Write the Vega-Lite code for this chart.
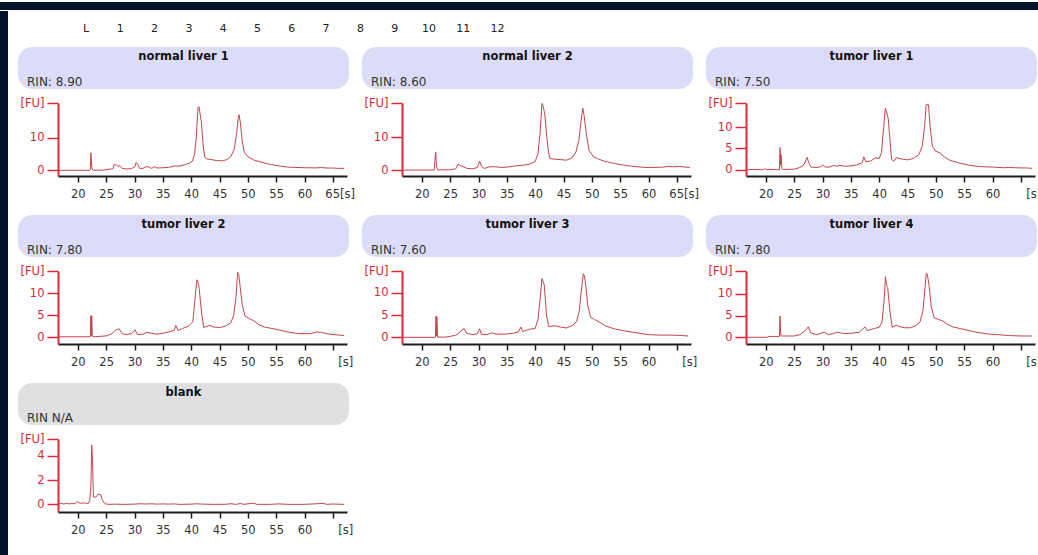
{
  "$schema": "https://vega.github.io/schema/vega-lite/v6.json",
  "padding": 0,
  "background": "#ffffff",
  "spacing": 0,
  "config": {
    "view": {"stroke": null},
    "font": "DejaVu Sans",
    "axisX": {"domainColor": "#1c1c1c", "domainWidth": 2, "tickColor": "#1c1c1c", "tickWidth": 1.5, "tickSize": 6, "labelColor": "#333333", "labelFontSize": 11.5, "labelPadding": 6, "grid": false, "labelFlush": false, "labelOverlap": false},
    "axisY": {"domainColor": "#e0283c", "domainWidth": 2, "tickColor": "#e0283c", "tickWidth": 1.5, "tickSize": 11, "labelColor": "#d92a3c", "labelFontSize": 11.5, "labelPadding": 3, "grid": false, "labelFlush": false, "labelOverlap": false, "offset": -40}
  },
  "datasets": {
    "nl1": [
      {"t":16.5,"fu":0},{"t":22.1,"fu":0},{"t":22.2,"fu":0.2},{"t":22.3,"fu":5.4},{"t":22.4,"fu":3},{"t":22.5,"fu":0.4},{"t":22.7,"fu":0.05},{"t":24.5,"fu":0.05},{"t":25.5,"fu":0.3},{"t":26.2,"fu":0.5},{"t":26.4,"fu":1.8},{"t":26.8,"fu":1.6},{"t":27.1,"fu":1.2},{"t":27.4,"fu":1.4},{"t":27.8,"fu":0.6},{"t":28.5,"fu":0.4},{"t":29.5,"fu":0.5},{"t":30.1,"fu":1.2},{"t":30.3,"fu":2.4},{"t":30.6,"fu":1.8},{"t":30.9,"fu":0.6},{"t":31.5,"fu":0.6},{"t":32,"fu":1.1},{"t":32.6,"fu":1.0},{"t":33,"fu":0.6},{"t":33.5,"fu":1.1},{"t":34,"fu":0.7},{"t":35,"fu":0.8},{"t":36,"fu":0.9},{"t":37,"fu":1.3},{"t":38,"fu":1.3},{"t":39,"fu":1.8},{"t":39.7,"fu":2.2},{"t":40.2,"fu":2.8},{"t":40.6,"fu":5},{"t":40.9,"fu":10},{"t":41.2,"fu":19.3},{"t":41.4,"fu":19.5},{"t":41.6,"fu":17},{"t":41.8,"fu":15},{"t":42.1,"fu":8},{"t":42.4,"fu":4},{"t":42.8,"fu":3.5},{"t":43.5,"fu":3.3},{"t":44.5,"fu":3.0},{"t":45.5,"fu":2.9},{"t":46.3,"fu":3.3},{"t":47,"fu":4.2},{"t":47.6,"fu":6.5},{"t":48,"fu":11},{"t":48.3,"fu":16},{"t":48.45,"fu":17.1},{"t":48.7,"fu":14.5},{"t":49,"fu":9},{"t":49.4,"fu":5.5},{"t":50,"fu":4.2},{"t":51,"fu":3.2},{"t":52,"fu":2.7},{"t":53,"fu":2.2},{"t":54,"fu":1.8},{"t":55,"fu":1.5},{"t":56,"fu":1.2},{"t":57,"fu":1.0},{"t":58,"fu":0.9},{"t":60,"fu":0.8},{"t":62,"fu":0.75},{"t":63,"fu":0.85},{"t":64,"fu":0.7},{"t":65,"fu":0.7},{"t":66,"fu":0.6},{"t":67,"fu":0.6}
    ],
    "nl2": [
      {"t":16.5,"fu":0},{"t":22.2,"fu":0},{"t":22.3,"fu":3},{"t":22.45,"fu":5.4},{"t":22.6,"fu":1},{"t":22.8,"fu":0.05},{"t":25,"fu":0.1},{"t":26,"fu":0.4},{"t":26.4,"fu":1.8},{"t":26.8,"fu":1.4},{"t":27.3,"fu":1.0},{"t":28,"fu":0.5},{"t":29,"fu":0.4},{"t":29.8,"fu":0.8},{"t":30.2,"fu":2.7},{"t":30.5,"fu":1.2},{"t":31,"fu":0.5},{"t":32,"fu":1.0},{"t":33,"fu":1.0},{"t":34,"fu":0.8},{"t":35,"fu":0.9},{"t":36,"fu":1.1},{"t":37,"fu":1.4},{"t":38,"fu":1.5},{"t":39,"fu":1.8},{"t":40,"fu":2.6},{"t":40.5,"fu":5},{"t":40.9,"fu":12},{"t":41.2,"fu":20.3},{"t":41.4,"fu":19.5},{"t":41.7,"fu":17},{"t":42,"fu":11},{"t":42.3,"fu":6},{"t":42.6,"fu":3.5},{"t":43.5,"fu":3.3},{"t":44.5,"fu":3.2},{"t":45.5,"fu":3.0},{"t":46.5,"fu":3.7},{"t":47.2,"fu":5.5},{"t":47.7,"fu":9},{"t":48.1,"fu":15},{"t":48.4,"fu":18.8},{"t":48.6,"fu":17},{"t":49,"fu":11.5},{"t":49.5,"fu":6},{"t":50.3,"fu":4.0},{"t":51,"fu":3.5},{"t":52,"fu":2.8},{"t":53,"fu":2.4},{"t":54,"fu":2.0},{"t":55,"fu":1.7},{"t":56,"fu":1.4},{"t":57,"fu":1.2},{"t":58,"fu":1.0},{"t":59.5,"fu":0.8},{"t":61,"fu":0.8},{"t":62.5,"fu":0.9},{"t":63.5,"fu":1.1},{"t":64.5,"fu":1.0},{"t":65.5,"fu":1.1},{"t":66.5,"fu":0.9},{"t":67.3,"fu":0.8}
    ],
    "tl1": [
      {"t":16.5,"fu":0},{"t":19.6,"fu":0},{"t":19.8,"fu":0.3},{"t":20,"fu":0},{"t":22.4,"fu":0},{"t":22.5,"fu":5.2},{"t":22.6,"fu":1},{"t":22.7,"fu":3.5},{"t":22.85,"fu":0.3},{"t":23,"fu":0.05},{"t":25,"fu":0.1},{"t":26,"fu":0.5},{"t":26.5,"fu":0.9},{"t":26.9,"fu":1.6},{"t":27.3,"fu":2.9},{"t":27.6,"fu":1.5},{"t":28,"fu":0.6},{"t":29,"fu":0.5},{"t":29.7,"fu":0.7},{"t":30.1,"fu":1.1},{"t":30.5,"fu":0.6},{"t":31.2,"fu":0.6},{"t":32,"fu":1.0},{"t":32.5,"fu":0.8},{"t":33,"fu":1.0},{"t":34,"fu":0.8},{"t":35,"fu":0.9},{"t":36,"fu":1.1},{"t":37,"fu":1.6},{"t":37.3,"fu":3.0},{"t":37.6,"fu":1.9},{"t":38.5,"fu":2.0},{"t":39.3,"fu":2.8},{"t":40,"fu":2.6},{"t":40.4,"fu":4.0},{"t":40.8,"fu":10},{"t":41.1,"fu":14.5},{"t":41.3,"fu":13.6},{"t":41.6,"fu":12},{"t":41.9,"fu":7},{"t":42.2,"fu":2.4},{"t":42.6,"fu":2.0},{"t":43,"fu":2.8},{"t":44,"fu":2.5},{"t":45,"fu":2.3},{"t":46,"fu":2.6},{"t":47,"fu":3.5},{"t":47.6,"fu":5.5},{"t":48,"fu":10},{"t":48.3,"fu":15.3},{"t":48.7,"fu":15.3},{"t":49,"fu":10},{"t":49.4,"fu":5.5},{"t":50,"fu":4.3},{"t":50.7,"fu":4.0},{"t":51.5,"fu":3.0},{"t":52.5,"fu":2.2},{"t":54,"fu":1.6},{"t":55,"fu":1.3},{"t":56,"fu":1.0},{"t":58,"fu":0.7},{"t":60,"fu":0.6},{"t":62,"fu":0.45},{"t":63,"fu":0.5},{"t":64,"fu":0.45},{"t":65,"fu":0.4},{"t":66,"fu":0.4},{"t":67,"fu":0.3}
    ],
    "tl2": [
      {"t":16.5,"fu":0.1},{"t":22.2,"fu":0.1},{"t":22.3,"fu":4.9},{"t":22.38,"fu":0.3},{"t":22.45,"fu":4.9},{"t":22.55,"fu":0.2},{"t":23,"fu":0.1},{"t":25,"fu":0.3},{"t":26,"fu":0.8},{"t":26.5,"fu":1.4},{"t":26.8,"fu":1.7},{"t":27.3,"fu":1.9},{"t":27.8,"fu":0.8},{"t":28.5,"fu":0.6},{"t":29.5,"fu":0.8},{"t":30.1,"fu":1.7},{"t":30.5,"fu":0.6},{"t":31.5,"fu":0.7},{"t":32.2,"fu":1.1},{"t":33,"fu":0.9},{"t":34,"fu":0.7},{"t":35,"fu":0.9},{"t":36,"fu":1.2},{"t":37,"fu":1.6},{"t":37.3,"fu":2.7},{"t":37.7,"fu":1.5},{"t":38.5,"fu":2.0},{"t":39.5,"fu":2.5},{"t":40.3,"fu":3.5},{"t":40.7,"fu":9},{"t":41.0,"fu":13.1},{"t":41.2,"fu":12.5},{"t":41.4,"fu":11.3},{"t":41.8,"fu":6},{"t":42.2,"fu":2.2},{"t":42.8,"fu":2.5},{"t":43.3,"fu":2.7},{"t":44,"fu":2.3},{"t":45,"fu":2.2},{"t":46,"fu":2.5},{"t":47,"fu":3.3},{"t":47.5,"fu":5},{"t":47.9,"fu":9},{"t":48.2,"fu":14.8},{"t":48.4,"fu":14.3},{"t":48.6,"fu":12},{"t":49,"fu":7.5},{"t":49.5,"fu":4.8},{"t":50.3,"fu":4.2},{"t":51,"fu":3.8},{"t":52,"fu":2.8},{"t":53,"fu":2.3},{"t":55,"fu":1.8},{"t":57,"fu":1.2},{"t":59,"fu":0.8},{"t":61,"fu":0.8},{"t":62.2,"fu":1.2},{"t":63,"fu":1.1},{"t":64,"fu":0.8},{"t":65,"fu":0.6},{"t":66,"fu":0.5},{"t":67,"fu":0.4}
    ],
    "tl3": [
      {"t":16.5,"fu":0},{"t":22.4,"fu":0},{"t":22.5,"fu":4.8},{"t":22.58,"fu":0.3},{"t":22.65,"fu":4.6},{"t":22.8,"fu":0.05},{"t":24,"fu":0.05},{"t":25,"fu":0.2},{"t":26,"fu":0.5},{"t":26.8,"fu":1.2},{"t":27.1,"fu":1.8},{"t":27.5,"fu":1.9},{"t":27.9,"fu":0.9},{"t":29,"fu":0.6},{"t":29.8,"fu":0.8},{"t":30.2,"fu":1.9},{"t":30.5,"fu":0.7},{"t":31.5,"fu":0.6},{"t":32.3,"fu":1.0},{"t":33.3,"fu":0.7},{"t":34.5,"fu":0.7},{"t":36,"fu":0.9},{"t":37,"fu":1.2},{"t":37.5,"fu":2.3},{"t":37.8,"fu":1.3},{"t":39,"fu":1.8},{"t":40,"fu":2.0},{"t":40.5,"fu":4},{"t":40.9,"fu":9},{"t":41.2,"fu":13.2},{"t":41.4,"fu":12.5},{"t":41.6,"fu":11.8},{"t":42,"fu":5},{"t":42.4,"fu":2.4},{"t":43,"fu":2.5},{"t":43.5,"fu":2.6},{"t":44.5,"fu":2.3},{"t":45.5,"fu":2.1},{"t":46.5,"fu":2.6},{"t":47.3,"fu":3.5},{"t":47.8,"fu":6},{"t":48.1,"fu":10},{"t":48.5,"fu":14.3},{"t":48.7,"fu":13.8},{"t":48.9,"fu":12},{"t":49.3,"fu":7},{"t":49.8,"fu":4.5},{"t":50.5,"fu":4.0},{"t":51.5,"fu":3.3},{"t":52.5,"fu":2.5},{"t":54,"fu":1.9},{"t":56,"fu":1.4},{"t":58,"fu":1.0},{"t":60,"fu":0.6},{"t":62,"fu":0.5},{"t":64,"fu":0.5},{"t":66,"fu":0.4},{"t":67,"fu":0.3}
    ],
    "tl4": [
      {"t":16.5,"fu":0},{"t":20.2,"fu":0},{"t":20.5,"fu":0.2},{"t":22.4,"fu":0.2},{"t":22.5,"fu":4.9},{"t":22.6,"fu":1},{"t":22.7,"fu":0.3},{"t":23.5,"fu":0.3},{"t":25,"fu":0.3},{"t":26,"fu":0.6},{"t":26.7,"fu":1.3},{"t":27,"fu":1.6},{"t":27.5,"fu":2.4},{"t":27.9,"fu":1.0},{"t":29,"fu":0.6},{"t":30.3,"fu":1.2},{"t":31,"fu":0.6},{"t":32,"fu":0.9},{"t":32.6,"fu":1.2},{"t":33.5,"fu":0.9},{"t":35,"fu":0.9},{"t":36.5,"fu":1.2},{"t":37.5,"fu":2.4},{"t":37.9,"fu":1.5},{"t":39,"fu":2.0},{"t":40,"fu":2.3},{"t":40.5,"fu":3.5},{"t":40.9,"fu":9},{"t":41.1,"fu":14},{"t":41.3,"fu":12},{"t":41.5,"fu":11.5},{"t":41.9,"fu":6},{"t":42.3,"fu":2.3},{"t":43,"fu":2.8},{"t":43.5,"fu":2.5},{"t":44.5,"fu":2.2},{"t":45.5,"fu":2.2},{"t":46.5,"fu":2.7},{"t":47.2,"fu":3.5},{"t":47.7,"fu":6},{"t":48,"fu":10},{"t":48.3,"fu":14.8},{"t":48.5,"fu":14.5},{"t":48.8,"fu":12},{"t":49.2,"fu":7},{"t":49.7,"fu":4.5},{"t":50.5,"fu":4.1},{"t":51.2,"fu":3.8},{"t":52,"fu":3.0},{"t":53,"fu":2.4},{"t":55,"fu":1.8},{"t":57,"fu":1.2},{"t":59,"fu":0.8},{"t":61,"fu":0.6},{"t":63,"fu":0.4},{"t":65,"fu":0.3},{"t":67,"fu":0.3}
    ],
    "blank": [
      {"t":16.5,"fu":0.05},{"t":17,"fu":0.1},{"t":17.5,"fu":0.03},{"t":18,"fu":0.08},{"t":18.5,"fu":0.04},{"t":19,"fu":0.07},{"t":19.5,"fu":0.05},{"t":19.9,"fu":0.25},{"t":20.2,"fu":0.12},{"t":20.8,"fu":0.1},{"t":21.3,"fu":0.12},{"t":21.8,"fu":0.05},{"t":22.1,"fu":0.3},{"t":22.3,"fu":1.5},{"t":22.45,"fu":4.9},{"t":22.6,"fu":3.5},{"t":22.75,"fu":0.6},{"t":23.2,"fu":0.6},{"t":23.6,"fu":0.85},{"t":24,"fu":0.8},{"t":24.4,"fu":0.3},{"t":24.8,"fu":0.05},{"t":25.5,"fu":0},{"t":26.5,"fu":0.02},{"t":28,"fu":0},{"t":30,"fu":0.02},{"t":31,"fu":0.05},{"t":32,"fu":0.03},{"t":33,"fu":0.05},{"t":34,"fu":0.02},{"t":35,"fu":0.04},{"t":36,"fu":0.02},{"t":37,"fu":0.04},{"t":38,"fu":0},{"t":40,"fu":0.02},{"t":41,"fu":0.05},{"t":42,"fu":0.02},{"t":44,"fu":0},{"t":46,"fu":0.01},{"t":47,"fu":0.05},{"t":48,"fu":0},{"t":48.7,"fu":0.08},{"t":49.3,"fu":0},{"t":51,"fu":0.1},{"t":51.6,"fu":0},{"t":54,"fu":0},{"t":55.5,"fu":0.04},{"t":57,"fu":0},{"t":60,"fu":0},{"t":63.3,"fu":0.08},{"t":64,"fu":0},{"t":65,"fu":0.03},{"t":67,"fu":0}
    ]
  },
  "vconcat": [
    {"width": 1038, "height": 8, "view": {"fill": "#03132b", "stroke": null}, "data": {"values": [{"a": 1}]}, "mark": {"type": "text", "text": ""}},
    {"hconcat": [
      {"width": 8, "height": 547, "view": {"fill": "#03132b", "stroke": null}, "data": {"values": [{"a": 1}]}, "mark": {"type": "text", "text": ""}},
      {"vconcat": [
        {"width": 548, "height": 35,
         "data": {"values": [{"lane":"L"},{"lane":"1"},{"lane":"2"},{"lane":"3"},{"lane":"4"},{"lane":"5"},{"lane":"6"},{"lane":"7"},{"lane":"8"},{"lane":"9"},{"lane":"10"},{"lane":"11"},{"lane":"12"}]},
         "mark": {"type": "text", "fontSize": 11, "color": "#222222"},
         "encoding": {"x": {"field": "lane", "type": "nominal", "sort": null, "scale": {"type": "point", "padding": 0, "range": [68, 479.6]}, "axis": null}, "text": {"field": "lane"}}},
        {"concat": [
          {"vconcat": [
            {"width": 331, "height": 42, "view": {"fill": "#dcdcf9", "stroke": null, "cornerRadius": 14}, "data": {"values": [{"name": "normal liver 1", "rin": "RIN: 8.90"}]},
             "layer": [
               {"mark": {"type": "text", "fontWeight": "bold", "fontSize": 11.5, "dy": -11, "color": "#111111"}, "encoding": {"text": {"field": "name"}}},
               {"mark": {"type": "text", "fontSize": 12, "align": "left", "dx": -156.5, "dy": 14, "color": "#333333"}, "encoding": {"text": {"field": "rin"}}}
             ]},
            {"width": 331, "height": 73, "data": {"name": "nl1"},
             "mark": {"type": "line", "color": "#c0464e", "strokeWidth": 1, "clip": true},
             "encoding": {
               "x": {"field": "t", "type": "quantitative", "scale": {"domain": [16.5, 67.5], "range": [40, 329], "nice": false, "zero": false}, "axis": {"title": null, "values": [20,25,30,35,40,45,50,55,60,65], "labelExpr": "datum.value == 65 ? '65[s]' : datum.label", "labelAlign": {"condition": {"test": "datum.value == 65", "value": "left"}, "value": "center"}, "labelOffset": {"condition": {"test": "datum.value == 65", "value": -8}, "value": 0}}},
               "y": {"field": "fu", "type": "quantitative", "scale": {"domain": [-1.75, 20.7], "nice": false, "zero": false}, "axis": {"title": null, "values": [0, 10, 20.7], "labelExpr": "datum.value > 20 ? '[FU]' : format(datum.value, 'd')"}}
             }}
          ], "spacing": 8},
          {"vconcat": [
            {"width": 331, "height": 42, "view": {"fill": "#dcdcf9", "stroke": null, "cornerRadius": 14}, "data": {"values": [{"name": "normal liver 2", "rin": "RIN: 8.60"}]},
             "layer": [
               {"mark": {"type": "text", "fontWeight": "bold", "fontSize": 11.5, "dy": -11, "color": "#111111"}, "encoding": {"text": {"field": "name"}}},
               {"mark": {"type": "text", "fontSize": 12, "align": "left", "dx": -156.5, "dy": 14, "color": "#333333"}, "encoding": {"text": {"field": "rin"}}}
             ]},
            {"width": 331, "height": 73, "data": {"name": "nl2"},
             "mark": {"type": "line", "color": "#c0464e", "strokeWidth": 1, "clip": true},
             "encoding": {
               "x": {"field": "t", "type": "quantitative", "scale": {"domain": [16.5, 67.5], "range": [40, 329], "nice": false, "zero": false}, "axis": {"title": null, "values": [20,25,30,35,40,45,50,55,60,65], "labelExpr": "datum.value == 65 ? '65[s]' : datum.label", "labelAlign": {"condition": {"test": "datum.value == 65", "value": "left"}, "value": "center"}, "labelOffset": {"condition": {"test": "datum.value == 65", "value": -8}, "value": 0}}},
               "y": {"field": "fu", "type": "quantitative", "scale": {"domain": [-1.8, 20.4], "nice": false, "zero": false}, "axis": {"title": null, "values": [0, 10, 20.4], "labelExpr": "datum.value > 20 ? '[FU]' : format(datum.value, 'd')"}}
             }}
          ], "spacing": 8},
          {"vconcat": [
            {"width": 331, "height": 42, "view": {"fill": "#dcdcf9", "stroke": null, "cornerRadius": 14}, "data": {"values": [{"name": "tumor liver 1", "rin": "RIN: 7.50"}]},
             "layer": [
               {"mark": {"type": "text", "fontWeight": "bold", "fontSize": 11.5, "dy": -11, "color": "#111111"}, "encoding": {"text": {"field": "name"}}},
               {"mark": {"type": "text", "fontSize": 12, "align": "left", "dx": -156.5, "dy": 14, "color": "#333333"}, "encoding": {"text": {"field": "rin"}}}
             ]},
            {"width": 331, "height": 73, "data": {"name": "tl1"},
             "mark": {"type": "line", "color": "#c0464e", "strokeWidth": 1, "clip": true},
             "encoding": {
               "x": {"field": "t", "type": "quantitative", "scale": {"domain": [16.5, 67.5], "range": [40, 329], "nice": false, "zero": false}, "axis": {"title": null, "values": [20,25,30,35,40,45,50,55,60,65], "labelExpr": "datum.value == 65 ? '[s]' : datum.label", "labelAlign": {"condition": {"test": "datum.value == 65", "value": "left"}, "value": "center"}, "labelOffset": {"condition": {"test": "datum.value == 65", "value": 5}, "value": 0}}},
               "y": {"field": "fu", "type": "quantitative", "scale": {"domain": [-1.5, 15.7], "nice": false, "zero": false}, "axis": {"title": null, "values": [0, 5, 10, 15.7], "labelExpr": "datum.value > 15 ? '[FU]' : format(datum.value, 'd')"}}
             }}
          ], "spacing": 8},
          {"vconcat": [
            {"width": 331, "height": 42, "view": {"fill": "#dcdcf9", "stroke": null, "cornerRadius": 14}, "data": {"values": [{"name": "tumor liver 2", "rin": "RIN: 7.80"}]},
             "layer": [
               {"mark": {"type": "text", "fontWeight": "bold", "fontSize": 11.5, "dy": -11, "color": "#111111"}, "encoding": {"text": {"field": "name"}}},
               {"mark": {"type": "text", "fontSize": 12, "align": "left", "dx": -156.5, "dy": 14, "color": "#333333"}, "encoding": {"text": {"field": "rin"}}}
             ]},
            {"width": 331, "height": 73, "data": {"name": "tl2"},
             "mark": {"type": "line", "color": "#c0464e", "strokeWidth": 1, "clip": true},
             "encoding": {
               "x": {"field": "t", "type": "quantitative", "scale": {"domain": [16.5, 67.5], "range": [40, 329], "nice": false, "zero": false}, "axis": {"title": null, "values": [20,25,30,35,40,45,50,55,60,65], "labelExpr": "datum.value == 65 ? '[s]' : datum.label", "labelAlign": {"condition": {"test": "datum.value == 65", "value": "left"}, "value": "center"}, "labelOffset": {"condition": {"test": "datum.value == 65", "value": 5}, "value": 0}}},
               "y": {"field": "fu", "type": "quantitative", "scale": {"domain": [-1.55, 15.1], "nice": false, "zero": false}, "axis": {"title": null, "values": [0, 5, 10, 15.1], "labelExpr": "datum.value > 15 ? '[FU]' : format(datum.value, 'd')"}}
             }}
          ], "spacing": 8},
          {"vconcat": [
            {"width": 331, "height": 42, "view": {"fill": "#dcdcf9", "stroke": null, "cornerRadius": 14}, "data": {"values": [{"name": "tumor liver 3", "rin": "RIN: 7.60"}]},
             "layer": [
               {"mark": {"type": "text", "fontWeight": "bold", "fontSize": 11.5, "dy": -11, "color": "#111111"}, "encoding": {"text": {"field": "name"}}},
               {"mark": {"type": "text", "fontSize": 12, "align": "left", "dx": -156.5, "dy": 14, "color": "#333333"}, "encoding": {"text": {"field": "rin"}}}
             ]},
            {"width": 331, "height": 73, "data": {"name": "tl3"},
             "mark": {"type": "line", "color": "#c0464e", "strokeWidth": 1, "clip": true},
             "encoding": {
               "x": {"field": "t", "type": "quantitative", "scale": {"domain": [16.5, 67.5], "range": [40, 329], "nice": false, "zero": false}, "axis": {"title": null, "values": [20,25,30,35,40,45,50,55,60,65], "labelExpr": "datum.value == 65 ? '[s]' : datum.label", "labelAlign": {"condition": {"test": "datum.value == 65", "value": "left"}, "value": "center"}, "labelOffset": {"condition": {"test": "datum.value == 65", "value": 5}, "value": 0}}},
               "y": {"field": "fu", "type": "quantitative", "scale": {"domain": [-1.5, 14.9], "nice": false, "zero": false}, "axis": {"title": null, "values": [0, 5, 10, 14.9], "labelExpr": "datum.value > 14 ? '[FU]' : format(datum.value, 'd')"}}
             }}
          ], "spacing": 8},
          {"vconcat": [
            {"width": 331, "height": 42, "view": {"fill": "#dcdcf9", "stroke": null, "cornerRadius": 14}, "data": {"values": [{"name": "tumor liver 4", "rin": "RIN: 7.80"}]},
             "layer": [
               {"mark": {"type": "text", "fontWeight": "bold", "fontSize": 11.5, "dy": -11, "color": "#111111"}, "encoding": {"text": {"field": "name"}}},
               {"mark": {"type": "text", "fontSize": 12, "align": "left", "dx": -156.5, "dy": 14, "color": "#333333"}, "encoding": {"text": {"field": "rin"}}}
             ]},
            {"width": 331, "height": 73, "data": {"name": "tl4"},
             "mark": {"type": "line", "color": "#c0464e", "strokeWidth": 1, "clip": true},
             "encoding": {
               "x": {"field": "t", "type": "quantitative", "scale": {"domain": [16.5, 67.5], "range": [40, 329], "nice": false, "zero": false}, "axis": {"title": null, "values": [20,25,30,35,40,45,50,55,60,65], "labelExpr": "datum.value == 65 ? '[s]' : datum.label", "labelAlign": {"condition": {"test": "datum.value == 65", "value": "left"}, "value": "center"}, "labelOffset": {"condition": {"test": "datum.value == 65", "value": 5}, "value": 0}}},
               "y": {"field": "fu", "type": "quantitative", "scale": {"domain": [-1.55, 15.3], "nice": false, "zero": false}, "axis": {"title": null, "values": [0, 5, 10, 15.3], "labelExpr": "datum.value > 15 ? '[FU]' : format(datum.value, 'd')"}}
             }}
          ], "spacing": 8},
          {"vconcat": [
            {"width": 331, "height": 42, "view": {"fill": "#e0e0e3", "stroke": null, "cornerRadius": 14}, "data": {"values": [{"name": "blank", "rin": "RIN N/A"}]},
             "layer": [
               {"mark": {"type": "text", "fontWeight": "bold", "fontSize": 11.5, "dy": -11, "color": "#111111"}, "encoding": {"text": {"field": "name"}}},
               {"mark": {"type": "text", "fontSize": 12, "align": "left", "dx": -156.5, "dy": 14, "color": "#333333"}, "encoding": {"text": {"field": "rin"}}}
             ]},
            {"width": 331, "height": 73, "data": {"name": "blank"},
             "mark": {"type": "line", "color": "#c0464e", "strokeWidth": 1, "clip": true},
             "encoding": {
               "x": {"field": "t", "type": "quantitative", "scale": {"domain": [16.5, 67.5], "range": [40, 329], "nice": false, "zero": false}, "axis": {"title": null, "values": [20,25,30,35,40,45,50,55,60,65], "labelExpr": "datum.value == 65 ? '[s]' : datum.label", "labelAlign": {"condition": {"test": "datum.value == 65", "value": "left"}, "value": "center"}, "labelOffset": {"condition": {"test": "datum.value == 65", "value": 5}, "value": 0}}},
               "y": {"field": "fu", "type": "quantitative", "scale": {"domain": [-0.63, 5.4], "nice": false, "zero": false}, "axis": {"title": null, "values": [0, 2, 4, 5.4], "labelExpr": "datum.value > 5 ? '[FU]' : format(datum.value, 'd')"}}
             }}
          ], "spacing": 8}
        ], "columns": 3, "spacing": {"row": 15, "column": 7}}
      ], "spacing": 1}
    ], "spacing": 10}
  ]
}
